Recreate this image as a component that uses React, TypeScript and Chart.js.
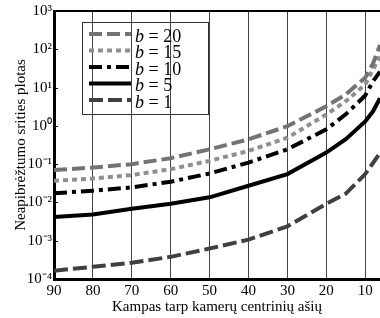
import React, { useEffect, useRef } from 'react';
import { Chart, registerables } from 'chart.js';

Chart.register(...registerables);

// Angle between camera central axes (degrees)
const angles = [90, 80, 70, 60, 50, 40, 30, 20, 15, 10, 8, 6.2];
// Uncertainty region area for each b
const b20 = [0.07, 0.0815, 0.1, 0.143, 0.244, 0.444, 0.98, 3.24, 6.6, 18, 42, 130];
const b15 = [0.0368, 0.0422, 0.0518, 0.074, 0.122, 0.221, 0.489, 1.98, 4.4, 12, 29.5, 65];
const b10 = [0.0173, 0.0203, 0.0247, 0.0348, 0.057, 0.11, 0.244, 0.81, 2.0, 6.2, 14.5, 26];
const b5 = [0.00417, 0.00484, 0.0068, 0.0092, 0.0136, 0.0273, 0.055, 0.2, 0.45, 1.3, 2.4, 5.3];
const b1 = [0.000164, 0.000208, 0.000265, 0.000379, 0.000625, 0.00107, 0.00237, 0.0092, 0.017, 0.055, 0.107, 0.195];

const bValues = ['20', '15', '10', '5', '1'];
const xTicks = [90, 80, 70, 60, 50, 40, 30, 20, 10];
const yTicks = [1e-4, 1e-3, 1e-2, 1e-1, 1e0, 1e1, 1e2, 1e3];
const xTitle = 'Kampas tarp kamerų centrinių ašių';
const yTitle = 'Neapibrėžtumo srities plotas';

const FONT = '"Liberation Serif", "Times New Roman", serif';

const SUP: Record<string, string> = {
  '-': '⁻', '0': '⁰', '1': '¹', '2': '²', '3': '³', '4': '⁴', '5': '⁵', '6': '⁶', '7': '⁷', '8': '⁸', '9': '⁹',
};
const toSup = (s: string) => s.split('').map((c) => SUP[c] ?? c).join('');

const legendPlugin = {
  id: 'customLegendAndFrame',
  afterDatasetsDraw(chart: any) {
    const { ctx, chartArea } = chart;
    ctx.save();
    // top frame line
    ctx.strokeStyle = '#000';
    ctx.lineWidth = 2;
    ctx.beginPath();
    ctx.moveTo(chartArea.left, chartArea.top);
    ctx.lineTo(chartArea.right, chartArea.top);
    ctx.stroke();
    // inward ticks on y axis
    const ys = chart.scales.y;
    ctx.lineWidth = 1;
    yTicks.forEach((v) => {
      const py = Math.round(ys.getPixelForValue(v)) + 0.5;
      ctx.beginPath();
      ctx.moveTo(chartArea.left, py);
      ctx.lineTo(chartArea.left + 4, py);
      ctx.stroke();
    });

    // legend box
    const bx = 82.5, by = 22.5, bw = 126, bh = 92;
    ctx.strokeStyle = '#333';
    ctx.lineWidth = 1;
    ctx.strokeRect(bx, by, bw, bh);
    const rowY0 = 34;
    const rowStep = 16.5;
    chart.data.datasets.forEach((ds: any, i: number) => {
      const y = rowY0 + i * rowStep;
      ctx.save();
      ctx.strokeStyle = ds.borderColor;
      ctx.lineWidth = ds.borderWidth;
      ctx.lineCap = 'butt';
      ctx.setLineDash(ds.borderDash || []);
      ctx.beginPath();
      ctx.moveTo(89, y);
      ctx.lineTo(131, y);
      ctx.stroke();
      ctx.restore();
      ctx.fillStyle = '#000';
      ctx.textBaseline = 'middle';
      ctx.textAlign = 'left';
      ctx.font = `italic 18px ${FONT}`;
      ctx.fillText('b', 135, y + 3);
      const w = ctx.measureText('b').width;
      ctx.font = `18px ${FONT}`;
      ctx.fillText(' = ' + bValues[i], 135 + w, y + 3);
    });
    ctx.restore();
  },
};

export default function App() {
  const ref = useRef<HTMLCanvasElement>(null);
  useEffect(() => {
    if (!ref.current) return;
    const mk = (label: string, data: number[], color: string, dash: number[]) => ({
      label,
      data: angles.map((a, i) => ({ x: a, y: data[i] })),
      borderColor: color,
      backgroundColor: color,
      borderWidth: 4,
      borderDash: dash,
      borderCapStyle: 'butt' as const,
      pointRadius: 0,
      tension: 0,
      fill: false,
    });
    const chart = new Chart(ref.current, {
      type: 'line',
      data: {
        datasets: [
          mk('b = ' + bValues[0], b20, '#737373', [13, 5]),
          mk('b = ' + bValues[1], b15, '#8f8f8f', [5, 4]),
          mk('b = ' + bValues[2], b10, '#000000', [13, 5, 4, 5]),
          mk('b = ' + bValues[3], b5, '#000000', []),
          mk('b = ' + bValues[4], b1, '#404040', [14, 5]),
        ],
      },
      options: {
        animation: false,
        responsive: false,
        layout: { padding: { top: 9, right: 0, left: 0, bottom: 0 } },
        plugins: { legend: { display: false }, tooltip: { enabled: false } },
        scales: {
          x: {
            type: 'linear',
            reverse: true,
            min: 6.2,
            max: 90,
            afterBuildTicks: (s: any) => {
              s.ticks = xTicks.map((v) => ({ value: v }));
            },
            afterFit: (s: any) => {
              s.height = 39;
            },
            ticks: {
              color: '#000',
              font: { family: FONT, size: 15 },
              padding: 3,
              maxRotation: 0,
              autoSkip: false,
              callback: (v: any) => String(v),
            },
            grid: {
              display: true,
              drawTicks: false,
              color: '#444',
              lineWidth: 1,
            },
            border: { display: true, color: '#000', width: 3 },
            title: {
              display: true,
              text: xTitle,
              color: '#000',
              font: { family: FONT, size: 15 },
              padding: { top: 0, bottom: 2 },
            },
          },
          y: {
            type: 'logarithmic',
            min: 1e-4,
            max: 1e3,
            afterBuildTicks: (s: any) => {
              s.ticks = yTicks.map((v) => ({ value: v }));
            },
            afterFit: (s: any) => {
              s.width = 54;
            },
            ticks: {
              color: '#000',
              font: { family: FONT, size: 15 },
              padding: 2,
              autoSkip: false,
              callback: (v: any) => '10' + toSup(String(Math.round(Math.log10(v)))),
            },
            grid: { display: false, drawTicks: false },
            border: { display: true, color: '#000', width: 3 },
            title: {
              display: true,
              text: yTitle,
              color: '#000',
              font: { family: FONT, size: 15 },
              padding: { top: 12, bottom: 0 },
            },
          },
        },
      },
      plugins: [legendPlugin],
    });
    return () => chart.destroy();
  }, []);
  return (
    <div style={{ position: 'absolute', left: 0, top: 0, width: 380, height: 318, overflow: 'hidden', background: '#fff' }}>
      <canvas ref={ref} width={380} height={318} style={{ width: 380, height: 318 }} />
    </div>
  );
}
